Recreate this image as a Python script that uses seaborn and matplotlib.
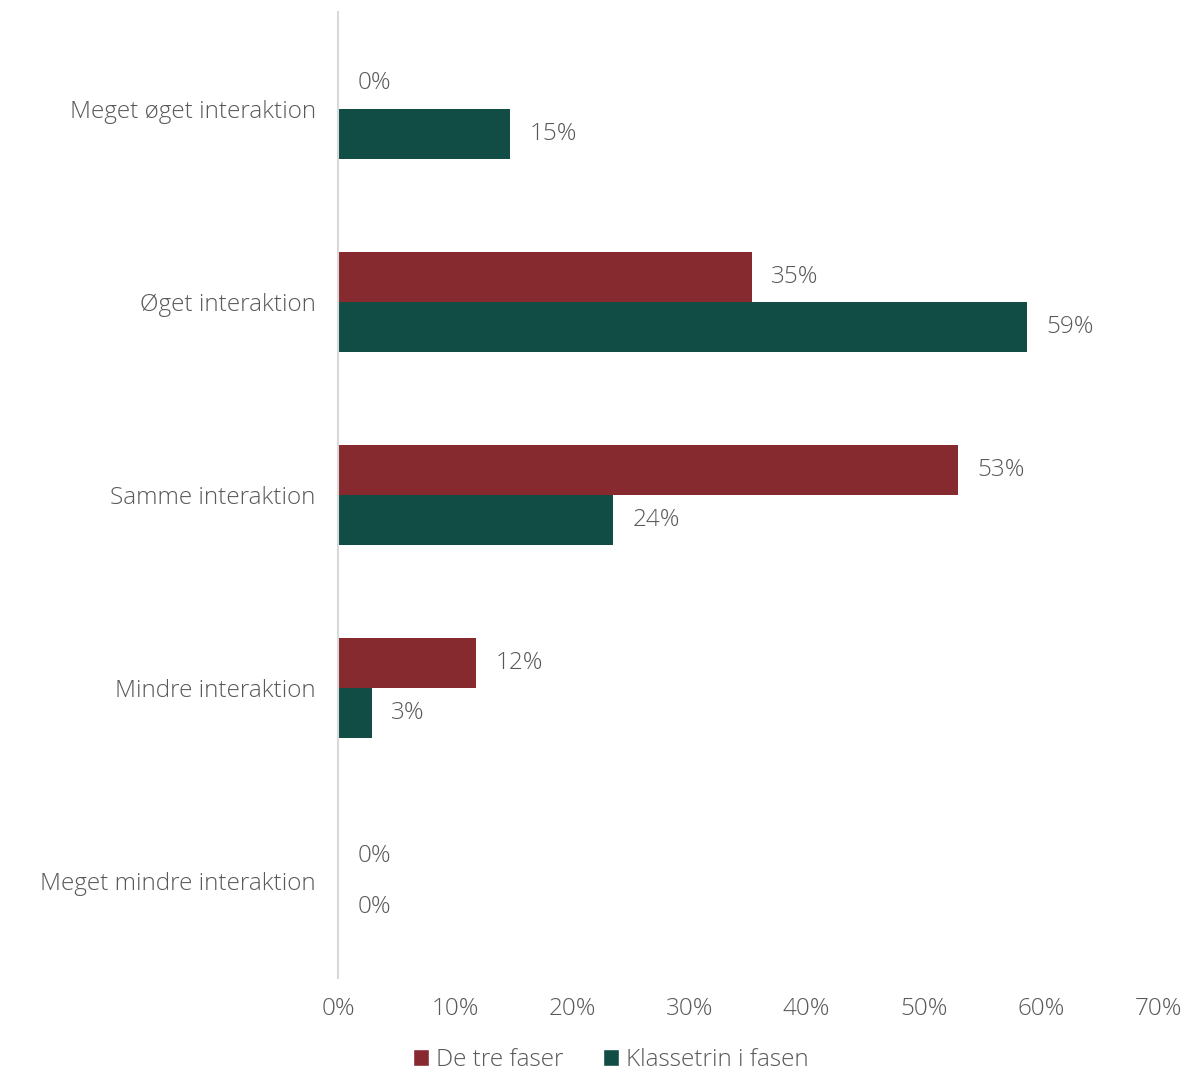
import matplotlib
matplotlib.use("Agg")
import matplotlib.pyplot as plt
import seaborn as sns
import pandas as pd
from matplotlib.ticker import FuncFormatter
from matplotlib.patches import Patch

categories = ["Meget øget interaktion", "Øget interaktion", "Samme interaktion",
              "Mindre interaktion", "Meget mindre interaktion"]
series = ["De tre faser", "Klassetrin i fasen"]
de_tre_faser = [0.0, 35.3, 52.9, 11.8, 0.0]
klassetrin = [14.7, 58.8, 23.5, 2.9, 0.0]
colors = ["#862A2F", "#124D45"]

rows = []
for c, a, b in zip(categories, de_tre_faser, klassetrin):
    rows.append({"cat": c, "series": series[0], "val": a})
    rows.append({"cat": c, "series": series[1], "val": b})
df = pd.DataFrame(rows)

sns.set_theme(style="white")
plt.rcParams['font.family'] = ['Open Sans', 'DejaVu Sans']
txt = "#595959"
FS = 17.5
W = "light"

fig = plt.figure(figsize=(11.88, 10.71), dpi=100)
ax = fig.add_axes([338/1188, 1 - 978/1071, 820/1188, 966/1071])
sns.barplot(data=df, y="cat", x="val", hue="series", order=categories,
            hue_order=series, palette=colors, width=0.52, orient="h",
            ax=ax, legend=False, saturation=1, edgecolor="none")

for cont in ax.containers:
    ax.bar_label(cont, labels=[f"{v:.0f}%" for v in cont.datavalues],
                 padding=14, fontsize=FS, color=txt, fontweight=W)

ax.set_xlim(0, 70)
ax.set_xticks(range(0, 71, 10))
ax.xaxis.set_major_formatter(FuncFormatter(lambda v, p: f"{v:.0f}%"))
ax.set_xlabel("")
ax.set_ylabel("")
for s in ["top", "right", "bottom"]:
    ax.spines[s].set_visible(False)
ax.spines["left"].set_color("#D9D9D9")
ax.spines["left"].set_linewidth(1.5)
ax.tick_params(axis="x", length=0, pad=14, labelsize=FS, labelcolor=txt)
ax.tick_params(axis="y", length=0, pad=16, labelsize=FS, labelcolor=txt)
for lab in ax.get_xticklabels() + ax.get_yticklabels():
    lab.set_fontweight(W)
ax.grid(False)

handles = [Patch(facecolor=colors[i], label=series[i]) for i in range(2)]
leg = fig.legend(handles=handles, loc="center", bbox_to_anchor=(611/1188, 1 - 1060/1071),
                 ncol=2, frameon=False, fontsize=FS, handlelength=0.65, handleheight=0.65,
                 handletextpad=0.3, columnspacing=1.6)
for t in leg.get_texts():
    t.set_color(txt)
    t.set_fontweight(W)

fig.savefig("out.png", dpi=100)
